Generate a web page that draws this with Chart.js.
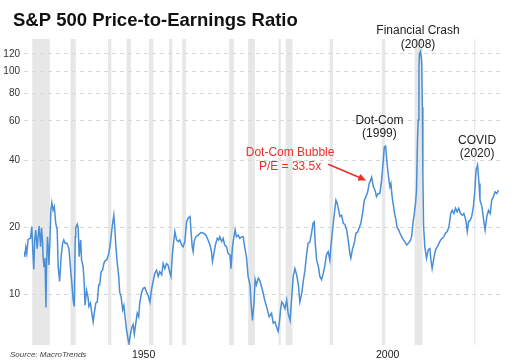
<!DOCTYPE html>
<html><head><meta charset="utf-8">
<script src="https://cdn.jsdelivr.net/npm/chart.js@4"></script>
<style>html,body{margin:0;padding:0;background:#fff;}#wrap{width:512px;height:362px;position:relative;}</style>
</head><body><div id="wrap"><canvas id="c" width="512" height="362"></canvas></div>
<script>
const years = [1927.9,1928.06,1928.27,1928.47,1928.74,1929.23,1929.5,1929.7,1929.9,1930.1,1930.3,1930.6,1930.8,1931.0,1931.3,1931.5,1931.7,1931.8,1932.0,1932.2,1932.4,1932.5,1932.7,1932.9,1933.0,1933.2,1933.4,1933.6,1933.86,1934.1,1934.4,1934.7,1934.9,1935.2,1935.5,1935.8,1936.05,1936.3,1936.7,1937.1,1937.4,1937.7,1937.96,1938.2,1938.4,1938.5,1938.8,1939.0,1939.2,1939.5,1939.7,1940.0,1940.2,1940.4,1940.7,1941.0,1941.2,1941.5,1941.8,1942.06,1942.3,1942.6,1942.9,1943.2,1943.4,1943.7,1944.0,1944.25,1944.5,1944.9,1945.2,1945.5,1945.7,1946.0,1946.3,1946.5,1946.7,1946.97,1947.3,1947.5,1947.8,1948.1,1948.35,1948.6,1948.9,1949.2,1949.4,1949.7,1950.0,1950.25,1950.5,1950.8,1951.1,1951.4,1951.6,1951.96,1952.3,1952.65,1953.0,1953.3,1953.7,1954.0,1954.35,1954.7,1955.05,1955.4,1955.7,1956.1,1956.4,1956.75,1957.1,1957.4,1957.8,1958.0,1958.25,1958.45,1958.8,1959.15,1959.5,1959.8,1960.2,1960.5,1960.85,1961.2,1961.5,1961.9,1962.1,1962.35,1962.55,1962.75,1963.1,1963.6,1964.1,1964.6,1965.15,1965.6,1966.0,1966.3,1966.5,1966.8,1967.1,1967.5,1967.8,1968.0,1968.4,1968.7,1969.0,1969.4,1969.7,1970.1,1970.3,1970.6,1970.95,1971.15,1971.4,1971.8,1972.1,1972.5,1972.8,1973.1,1973.5,1973.8,1974.2,1974.4,1974.7,1975.0,1975.25,1975.5,1975.9,1976.2,1976.75,1977.2,1977.7,1978.1,1978.6,1978.95,1979.3,1979.65,1979.95,1980.2,1980.45,1980.7,1981.0,1981.35,1981.7,1982.0,1982.4,1982.7,1983.05,1983.4,1983.75,1984.1,1984.4,1984.8,1985.1,1985.45,1985.8,1986.1,1986.45,1986.8,1987.1,1987.35,1987.55,1987.85,1988.2,1988.5,1988.85,1989.2,1989.5,1989.85,1990.2,1990.55,1990.75,1991.1,1991.4,1991.8,1992.05,1992.35,1992.6,1992.95,1993.3,1993.65,1994.0,1994.3,1994.65,1994.85,1995.2,1995.55,1995.9,1996.25,1996.55,1996.9,1997.3,1997.6,1997.95,1998.3,1998.6,1998.9,1999.1,1999.45,1999.8,2000.1,2000.45,2000.8,2001.15,2001.5,2001.7,2001.97,2002.2,2002.4,2002.65,2002.85,2003.05,2003.3,2003.5,2003.8,2004.1,2004.35,2004.65,2004.9,2005.25,2005.6,2005.9,2006.3,2006.6,2006.95,2007.3,2007.6,2007.85,2008.1,2008.3,2008.5,2008.65,2008.8,2008.9,2009.1,2009.35,2009.5,2009.6,2009.75,2010.0,2010.35,2010.7,2011.05,2011.25,2011.5,2011.9,2012.2,2012.55,2012.9,2013.25,2013.6,2013.9,2014.25,2014.6,2014.95,2015.3,2015.6,2015.95,2016.3,2016.6,2016.95,2017.3,2017.7,2018.0,2018.4,2018.7,2018.95,2019.3,2019.6,2019.95,2020.25,2020.5,2020.8,2021.1,2021.3,2021.7,2022.05,2022.35,2022.7,2023.05,2023.4,2023.7,2024.05,2024.4,2024.75,2025.1];
const peRatio = [15.5,14.7,16.2,15.2,17.6,17.8,20.1,15.8,12.9,17.5,19.4,16.0,18.1,20.2,16.3,19.8,17.2,14.7,13.3,14.5,8.7,12.8,18.1,15.8,13.5,16.9,23.8,25.7,23.8,24.7,20.8,19.4,13.3,11.4,14.7,16.9,17.5,16.9,16.9,16.0,13.3,11.2,9.4,8.8,18.1,19.8,20.6,19.8,14.7,17.5,14.2,13.3,11.6,8.9,10.4,9.7,8.8,9.1,8.2,7.5,8.2,9.1,9.2,11.0,11.0,12.6,12.8,13.7,14.1,14.3,15.0,16.3,17.8,20.4,22.6,19.8,16.6,14.0,12.0,10.2,9.7,8.5,8.9,7.9,6.9,6.3,6.0,6.6,7.1,7.3,6.6,7.4,8.2,7.9,9.1,10.1,10.6,10.7,10.2,9.9,9.2,10.4,11.4,12.4,12.8,12.0,12.6,12.2,13.7,13.0,13.7,13.5,12.4,12.0,14.7,16.3,19.1,17.5,17.2,17.5,16.6,16.3,17.2,21.1,21.9,22.3,19.4,16.3,15.5,17.2,18.1,18.4,18.9,18.8,18.4,17.5,16.6,15.5,14.0,15.2,16.6,17.8,17.5,18.1,17.2,17.8,16.6,16.3,15.2,15.0,13.0,16.3,18.4,19.4,18.1,18.4,17.8,18.1,18.1,16.3,14.5,12.0,11.0,9.1,7.6,9.1,11.6,11.0,11.8,11.5,10.4,9.4,8.6,7.9,8.2,7.4,7.5,7.1,6.8,7.4,8.5,9.2,9.0,8.6,9.4,8.2,7.6,9.4,12.0,13.0,12.2,11.0,9.2,10.1,11.4,12.8,15.2,16.9,17.1,18.8,20.8,21.1,16.9,14.2,13.3,12.0,11.6,12.4,13.3,15.0,15.5,14.2,16.3,19.4,22.3,26.4,25.6,23.9,22.3,22.6,20.8,20.5,19.4,17.5,15.2,14.5,16.0,16.9,18.8,19.0,19.8,20.8,23.4,26.4,27.4,28.8,31.4,32.5,33.5,30.4,29.3,27.4,28.3,28.3,32.5,40.0,45.8,46.2,40.0,36.1,32.5,30.4,31.4,27.4,25.6,23.0,21.5,19.8,19.4,18.8,18.1,17.5,17.2,16.6,16.9,17.2,18.1,21.1,23.0,25.6,29.3,49.2,60.5,105,120,123,112,69,34.8,20.1,16.3,14.5,15.8,16.0,14.2,13.0,14.7,15.8,16.3,16.9,17.5,17.8,18.1,18.8,19.1,20.1,23.0,23.8,23.0,24.3,23.4,24.3,23.0,22.6,23.0,21.5,19.1,21.1,21.5,22.3,24.7,29.3,36.1,38.0,31.4,26.4,24.7,21.5,19.4,22.3,23.8,23.0,26.4,27.4,28.8,28.3,29.3];
const yTicks = [10, 20, 40, 60, 80, 100, 120];
const xTicks = [1950, 2000];
const recessions = [[1929.6,1933.2],[1937.4,1938.5],[1945.1,1945.8],[1948.9,1949.8],[1953.5,1954.4],[1957.6,1958.3],[1960.3,1961.1],[1969.9,1970.9],[1973.8,1975.2],[1980.0,1980.5],[1981.5,1982.9],[1990.5,1991.2],[2001.2,2001.9],[2007.9,2009.5],[2020.1,2020.3]];
const titleText = 'S&P 500 Price-to-Earnings Ratio';
const sourceText = 'Source: MacroTrends';
const notes = [
  {lines:['Financial Crash','(2008)'], year:2008.6, color:'#222'},
  {lines:['Dot-Com','(1999)'], year:2000.7, color:'#222'},
  {lines:['COVID','(2020)'], year:2020.7, color:'#222'},
  {lines:['Dot-Com Bubble','P/E = 33.5x'], year:1982.4, color:'#e8302a'}
];
const FONT = '"Liberation Sans", Arial, Helvetica, sans-serif';

const bandPlugin = {
  id: 'bands',
  beforeDraw(chart) {
    const {ctx, chartArea: a, scales: {x}} = chart;
    ctx.save();
    ctx.fillStyle = '#e7e7e7';
    recessions.forEach(([s, e]) => {
      const x1 = x.getPixelForValue(s), x2 = x.getPixelForValue(e);
      ctx.fillRect(x1, a.top, Math.max(1.2, x2 - x1), a.bottom - a.top);
    });
    ctx.restore();
  }
};

const textPlugin = {
  id: 'texts',
  afterDraw(chart) {
    const {ctx, scales: {x, y}} = chart;
    ctx.save();
    ctx.fillStyle = '#111';
    ctx.font = 'bold 18.5px ' + FONT;
    ctx.textAlign = 'left';
    ctx.textBaseline = 'alphabetic';
    ctx.fillText(titleText, 13, 26);
    ctx.font = 'italic 8px ' + FONT;
    ctx.fillStyle = '#444';
    ctx.fillText(sourceText, 10, 357);
    ctx.textAlign = 'center';
    ctx.font = '12px ' + FONT;
    const base = [34, 123.5, 143.5, 156];
    notes.forEach((n, i) => {
      ctx.fillStyle = n.color;
      const cx = x.getPixelForValue(n.year);
      n.lines.forEach((t, j) => ctx.fillText(t, cx, base[i] + j * 13.5));
    });
    // arrow
    const x0 = x.getPixelForValue(1990.2), y0 = y.getPixelForValue(38.3);
    const x1 = x.getPixelForValue(1998.0), y1 = y.getPixelForValue(32.4);
    const ang = Math.atan2(y1 - y0, x1 - x0);
    ctx.strokeStyle = '#e8302a';
    ctx.fillStyle = '#e8302a';
    ctx.lineWidth = 1.6;
    ctx.beginPath();
    ctx.moveTo(x0, y0);
    ctx.lineTo(x1 - 6 * Math.cos(ang), y1 - 6 * Math.sin(ang));
    ctx.stroke();
    ctx.beginPath();
    ctx.moveTo(x1, y1);
    ctx.lineTo(x1 - 8 * Math.cos(ang) + 3.5 * Math.sin(ang), y1 - 8 * Math.sin(ang) - 3.5 * Math.cos(ang));
    ctx.lineTo(x1 - 8 * Math.cos(ang) - 3.5 * Math.sin(ang), y1 - 8 * Math.sin(ang) + 3.5 * Math.cos(ang));
    ctx.closePath();
    ctx.fill();
    ctx.restore();
  }
};

new Chart(document.getElementById('c'), {
  type: 'line',
  data: {
    datasets: [{
      data: years.map((yr, i) => ({x: yr, y: peRatio[i]})),
      borderColor: '#4a8fd6',
      borderWidth: 1.5,
      pointRadius: 0,
      tension: 0,
      fill: false
    }]
  },
  options: {
    responsive: false,
    animation: false,
    devicePixelRatio: 1,
    layout: {padding: {top: 39, right: 12, left: 0, bottom: 0}},
    plugins: {legend: {display: false}, tooltip: {enabled: false}, title: {display: false}},
    scales: {
      x: {
        type: 'linear', min: 1927.9, max: 2025.4,
        afterBuildTicks: s => { s.ticks = xTicks.map(v => ({value: v})); },
        afterFit: s => { s.height = 17; },
        grid: {display: false, drawTicks: false},
        border: {display: false},
        ticks: {align: 'start', maxRotation: 0, autoSkip: false, padding: 4, color: '#222',
          font: {family: FONT, size: 10.5}, callback: v => String(v)}
      },
      y: {
        type: 'logarithmic', min: 5.9, max: 140,
        afterBuildTicks: s => { s.ticks = yTicks.map(v => ({value: v})); },
        afterFit: s => { s.width = 24; },
        grid: {color: '#d8d8d8', lineWidth: 1, drawTicks: false},
        border: {display: false, dash: [4, 4]},
        ticks: {padding: 4, color: '#333', autoSkip: false, font: {family: FONT, size: 10}, callback: v => String(v)}
      }
    }
  },
  plugins: [bandPlugin, textPlugin]
});
</script></body></html>
